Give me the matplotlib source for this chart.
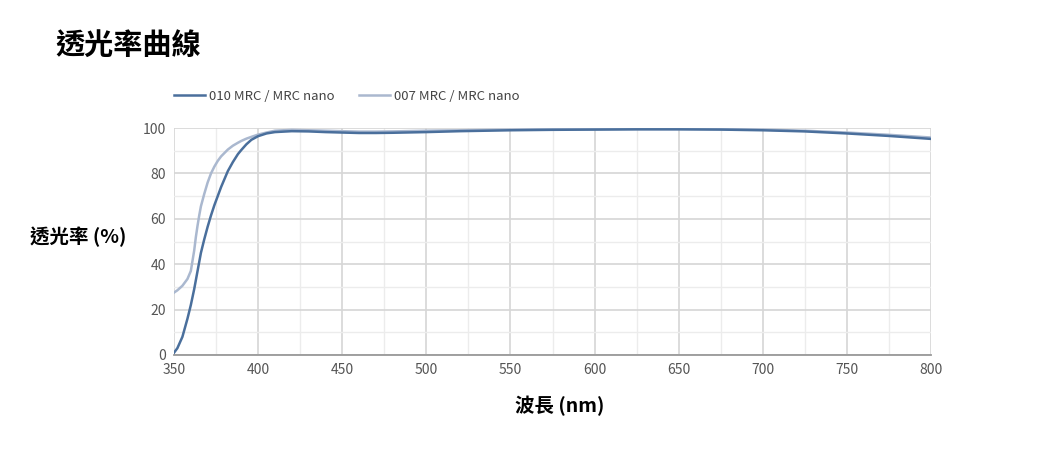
import numpy as np
import matplotlib
matplotlib.use('Agg')
import matplotlib.pyplot as plt

plt.rcParams['font.family'] = ['Noto Sans CJK TC', 'DejaVu Sans']

wavelength = [350, 352, 355, 358, 360, 362, 363, 364, 365, 366, 368, 370, 372,
              374, 376, 378, 380, 382, 385, 388, 390, 393, 396, 400, 405, 410,
              420, 430, 440, 450, 460, 470, 480, 500, 520, 550, 575, 600, 625,
              650, 675, 700, 725, 750, 775, 800]
t_010 = [1, 3, 8, 16, 22, 29, 33, 37, 41, 45, 51, 56.5, 61.5,
         66, 70, 74, 77.5, 81, 85, 88.5, 90.3, 92.8, 94.8, 96.4, 97.6, 98.2,
         98.6, 98.5, 98.2, 98, 97.8, 97.8, 97.9, 98.2, 98.6, 99, 99.2, 99.3, 99.4,
         99.4, 99.3, 99, 98.5, 97.6, 96.5, 95.2]
t_007 = [27.5, 28.5, 30.5, 33.5, 37, 46, 52, 57, 61.5, 65.5, 71, 76, 80,
         83, 85.5, 87.5, 89, 90.5, 92.2, 93.5, 94.3, 95.3, 96.1, 97.1, 98, 98.8,
         99.2, 99, 98.8, 98.6, 98.4, 98.4, 98.5, 98.8, 99, 99.3, 99.5, 99.5, 99.6,
         99.6, 99.5, 99.3, 98.8, 98, 97, 95.8]
labels = ['010 MRC / MRC nano', '007 MRC / MRC nano']

fig = plt.figure(figsize=(10.5, 4.5), dpi=100)
ax = fig.add_axes([174/1050, 1-355/450, (931-174)/1050, (355-128)/450])

l1, = ax.plot(wavelength, t_010, color='#4a6f9c', lw=1.8, zorder=3)
l2, = ax.plot(wavelength, t_007, color='#aab8cf', lw=1.8, zorder=2)

ax.set_xlim(350, 800)
ax.set_ylim(0, 100)
ax.set_xticks(np.arange(350, 801, 50))
ax.set_yticks(np.arange(0, 101, 20))
ax.set_xticks(np.arange(350, 801, 25), minor=True)
ax.set_yticks(np.arange(0, 101, 10), minor=True)
ax.grid(which='major', color='#d6d6d6', lw=1.2)
ax.grid(which='minor', color='#ececec', lw=1.0)
ax.tick_params(which='both', length=0, labelsize=10, labelcolor='#555555', pad=6)
for s in ['left', 'right', 'top']:
    ax.spines[s].set_visible(False)
ax.spines['bottom'].set_color('#999999')
ax.spines['bottom'].set_linewidth(1.3)
ax.set_axisbelow(True)

fig.text(55/1050, 1-45/450, '透光率曲線', fontsize=21, fontweight='bold', va='center', ha='left')
fig.text(30/1050, 1-237/450, '透光率 (%)', fontsize=14, fontweight='bold', va='center', ha='left')
fig.text(560/1050, 1-406/450, '波長 (nm)', fontsize=14, fontweight='bold', va='center', ha='center')

fig.legend([l1, l2], labels, loc='center left', bbox_to_anchor=(162/1050, 1-96/450),
           ncol=2, frameon=False, fontsize=9.5, handlelength=2.35, columnspacing=1.9,
           labelcolor='#444444', handletextpad=0.3)

fig.savefig('out.png', dpi=100)
